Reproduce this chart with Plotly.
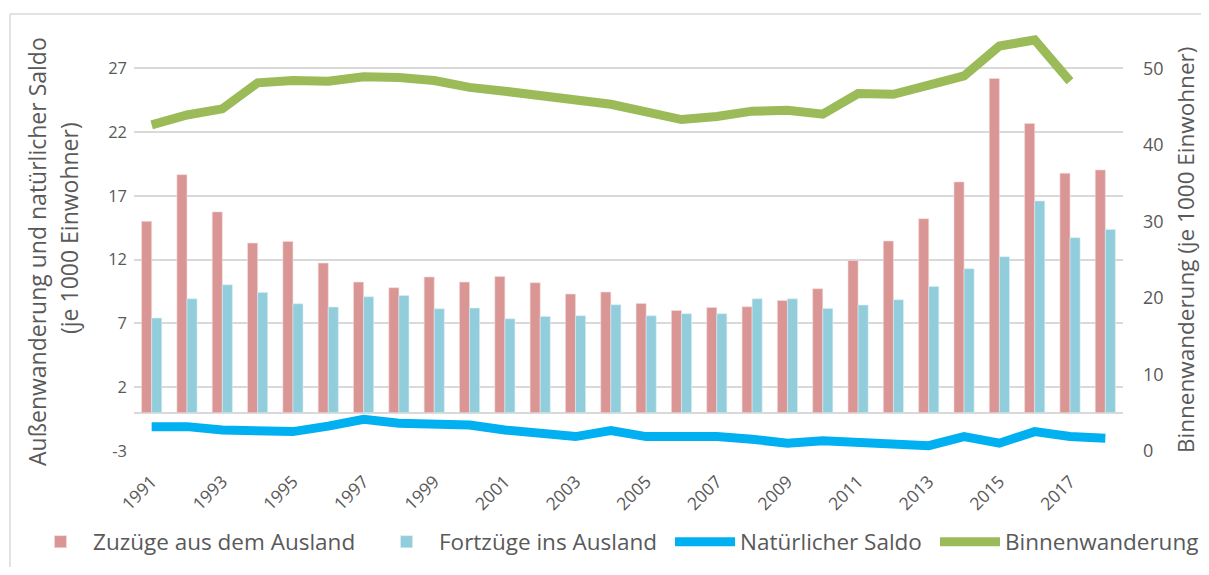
import plotly.graph_objects as go

years = [str(y) for y in range(1991, 2019)]
tick_years = [str(y) for y in range(1991, 2019, 2)]
left_ticks = [-3, 2, 7, 12, 17, 22, 27]
left_tick_labels = ["-3", "2", "7", "12", "17", "22", "27"]
right_ticks = [0, 10, 20, 30, 40, 50]

zuzuege = [15.0, 18.66, 15.74, 13.3, 13.43, 11.73, 10.24, 9.8, 10.64, 10.24,
           10.68, 10.19, 9.3, 9.46, 8.57, 8.02, 8.25, 8.3, 8.8, 9.72,
           11.94, 13.46, 15.21, 18.09, 26.2, 22.67, 18.77, 19.03]
fortzuege = [7.42, 8.93, 10.03, 9.43, 8.54, 8.28, 9.09, 9.19, 8.15, 8.2,
             7.36, 7.54, 7.6, 8.46, 7.6, 7.76, 7.76, 8.93, 8.93, 8.17,
             8.44, 8.85, 9.9, 11.29, 12.23, 16.6, 13.72, 14.37]
nat_saldo = [-1.09, -1.09, -1.35, -1.48, -1.48, -1.05, -0.51, -0.83, -0.96, -0.96,
             -1.35, -1.66, -1.87, -1.4, -1.87, -1.87, -1.87, -2.08, -2.39, -2.19,
             -2.27, -2.34, -2.58, -1.87, -2.39, -1.48, -1.87, -2.0]
binnen = [42.6, 43.9, 44.7, 48.1, 48.4, 48.3, 48.9, 48.8, 48.4, 47.5,
          47.0, 46.5, 46.0, 45.3, 44.3, 43.3, 43.7, 44.4, 44.5, 44.0,
          46.7, 46.6, 47.8, 49.0, 52.9, 53.7, 48.3, None]

left_title = ["Außenwanderung und natürlicher Saldo", "(je 1000 Einwohner)"]
right_title = "Binnenwanderung (je 1000 Einwohner)"

FONT = "Open Sans"
TXT = "#595959"
GRID = "#d9d9d9"

# the page body has an 8px margin: figure coords = screen coords - 8
OFF = 8
W, H = 1209 - 2 * OFF, 575 - 2 * OFF
# plot area in screen pixels
L, R, T, B = 134, 1123, 30, 451
PW, PH = R - L, B - T


def px(xp):
    return (xp - L) / PW


def py(yp):
    return (B - yp) / PH


fig = go.Figure()
fig.add_trace(go.Bar(x=years, y=zuzuege, name="Zuzüge aus dem Ausland", legend="legend",
                     marker=dict(color="#da9694", line=dict(color="#f2dcdb", width=0.6))))
fig.add_trace(go.Bar(x=years, y=fortzuege, name="Fortzüge ins Ausland", legend="legend2",
                     marker=dict(color="#92cddc", line=dict(color="#daeef3", width=0.6))))
fig.add_trace(go.Scatter(x=years, y=nat_saldo, name="Natürlicher Saldo", mode="lines",
                         legend="legend3", line=dict(color="#00b0f0", width=9)))
fig.add_trace(go.Scatter(x=years, y=binnen, name="Binnenwanderung", mode="lines",
                         legend="legend4", line=dict(color="#9bbb59", width=9), yaxis="y2"))

leg_y = py(542)
leg_font = dict(size=22.5, color=TXT, family=FONT)


def leg(xpix, iw):
    return dict(orientation="h", x=px(xpix), xanchor="left", y=leg_y, yanchor="middle",
                font=leg_font, itemwidth=iw, bgcolor="rgba(0,0,0,0)", borderwidth=0,
                itemclick=False, itemdoubleclick=False)


fig.update_layout(
    width=W, height=H,
    margin=dict(l=L - OFF, r=W - (R - OFF), t=T - OFF, b=H - (B - OFF), autoexpand=False),
    paper_bgcolor="white", plot_bgcolor="white",
    font=dict(family=FONT, color=TXT, size=16),
    barmode="group", bargap=0.43, bargroupgap=0,
    showlegend=True,
    legend=leg(28, 55),
    legend2=leg(374, 55),
    legend3=leg(670, 60),
    legend4=leg(935, 60),
    xaxis=dict(type="category", tickmode="array", tickvals=tick_years, ticktext=tick_years,
               tickangle=-45, showgrid=False, showline=False, ticks="",
               ticklabelstandoff=16,
               tickfont=dict(size=17.5, color=TXT)),
    yaxis=dict(range=[-3, 30], tickmode="array", tickvals=left_ticks, ticktext=left_tick_labels,
               showgrid=True, gridcolor=GRID, gridwidth=1.5,
               zeroline=True, zerolinecolor=GRID, zerolinewidth=1.5, showline=False,
               ticklabelstandoff=6,
               tickfont=dict(size=16.5, color=TXT)),
    yaxis2=dict(range=[0, 55], tickmode="array", tickvals=right_ticks,
                overlaying="y", side="right",
                showgrid=False, zeroline=False, showline=False,
                ticklabelstandoff=19,
                tickfont=dict(size=18, color=TXT)),
)

# axis titles
fig.add_annotation(text=left_title[0], xref="paper", yref="paper", x=px(37), y=py(252),
                   textangle=-90, showarrow=False, xanchor="center", yanchor="middle",
                   font=dict(size=23, color=TXT, family=FONT))
fig.add_annotation(text=left_title[1], xref="paper", yref="paper", x=px(69), y=py(228),
                   textangle=-90, showarrow=False, xanchor="center", yanchor="middle",
                   font=dict(size=23, color=TXT, family=FONT))
fig.add_annotation(text=right_title, xref="paper", yref="paper", x=px(1186), y=py(250),
                   textangle=-90, showarrow=False, xanchor="center", yanchor="middle",
                   font=dict(size=22.5, color=TXT, family=FONT))

# chart frame (top and left edges visible in the reference)
fig.add_shape(type="line", xref="paper", yref="paper",
              x0=px(10), x1=px(1300), y0=py(14), y1=py(14),
              line=dict(color=GRID, width=1.5))
fig.add_shape(type="line", xref="paper", yref="paper",
              x0=px(10), x1=px(10), y0=py(14), y1=py(700),
              line=dict(color=GRID, width=1.5))

fig.write_html("out.html")
